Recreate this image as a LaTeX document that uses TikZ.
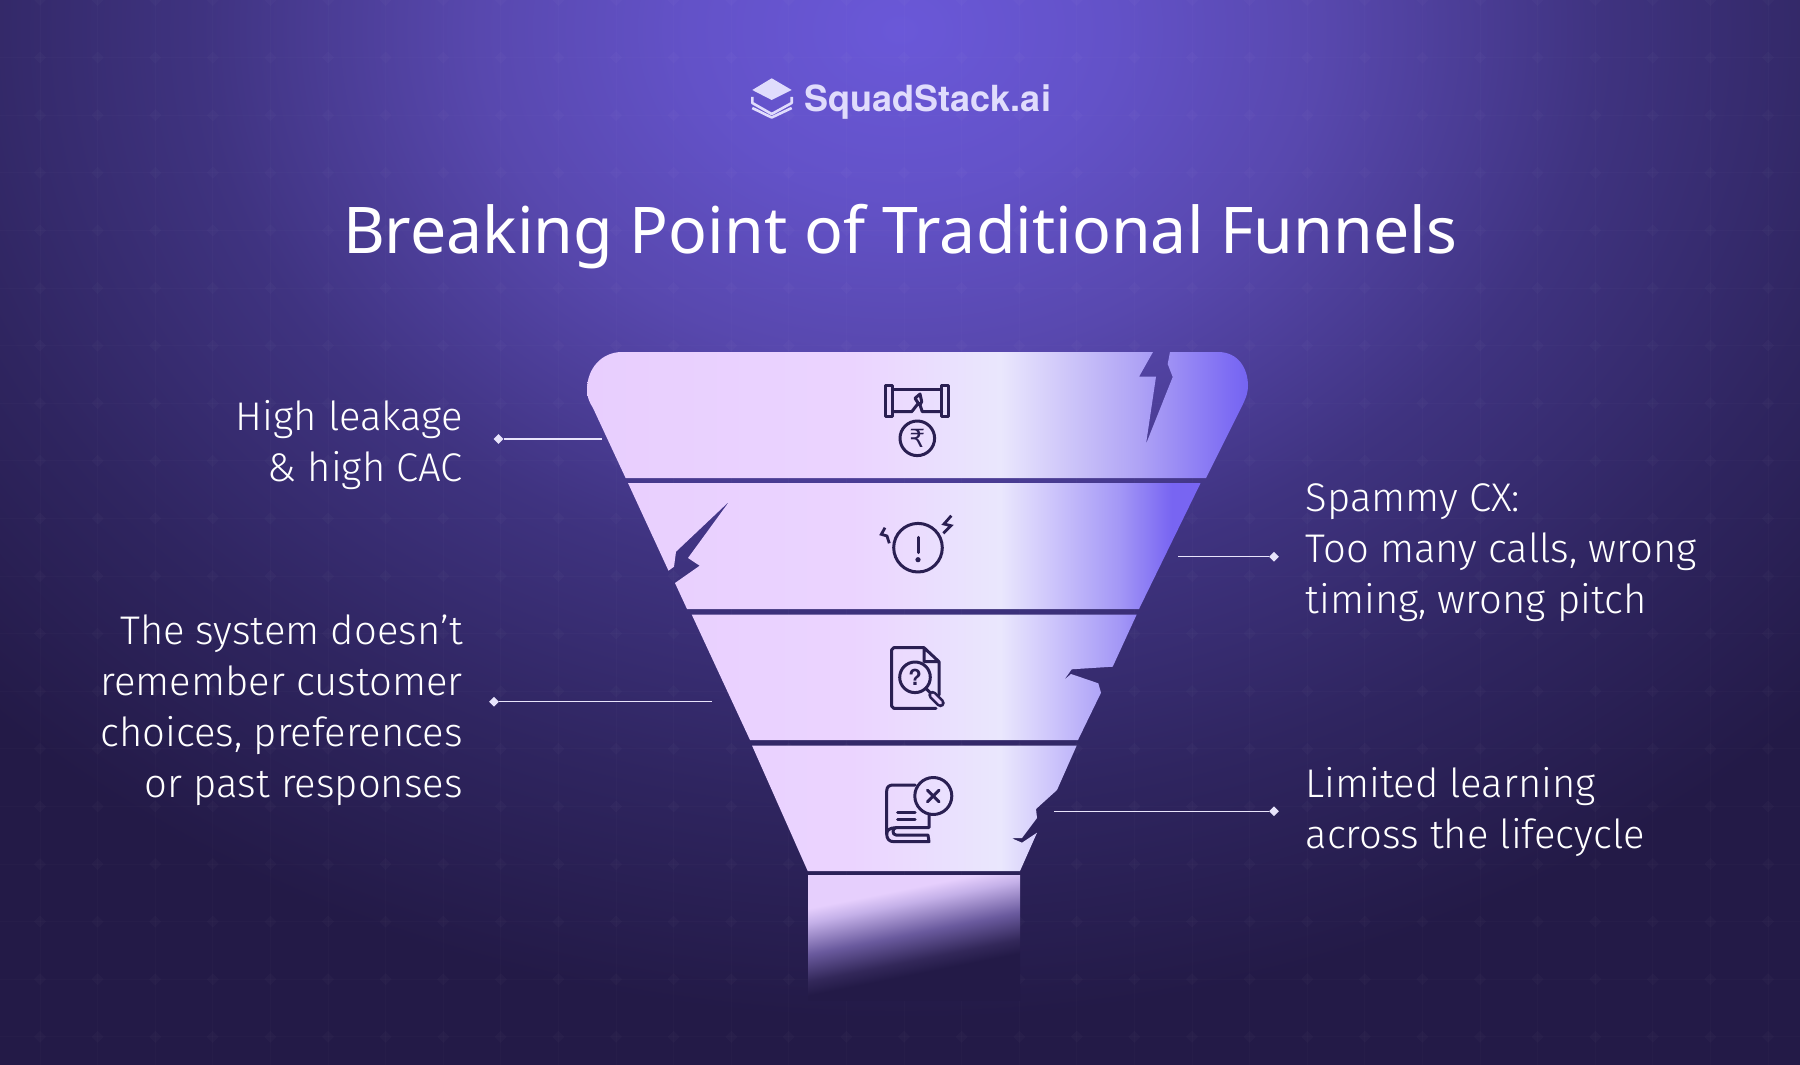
\documentclass[tikz,border=0pt]{standalone}
\usepackage{fontspec}
\usetikzlibrary{shapes.geometric}
\setmainfont{Noto Sans}
\newfontfamily\lightfont{Fira Sans Light}
\newfontfamily\logofont{TeX Gyre Heros}
\newfontfamily\symfont{DejaVu Sans}
\definecolor{ink}{HTML}{2A1F52}
\definecolor{linec}{HTML}{E8E4FB}
\definecolor{logoc}{HTML}{E0DCFC}
\definecolor{c0}{HTML}{6A58D8}
\definecolor{c1}{HTML}{6352C8}
\definecolor{c2}{HTML}{5848AE}
\definecolor{c3}{HTML}{3F3380}
\definecolor{c4}{HTML}{2F2560}
\definecolor{c5}{HTML}{231A47}
\definecolor{fa}{HTML}{E8CEFE}
\definecolor{fb}{HTML}{EBD4FF}
\definecolor{fc}{HTML}{EAE7FD}
\definecolor{fd}{HTML}{D5CEFA}
\definecolor{fe}{HTML}{AEA2F5}
\definecolor{ff}{HTML}{7D6CF3}
\definecolor{fg}{HTML}{7565F2}
\definecolor{gd}{HTML}{CEC6FB}
\definecolor{ge}{HTML}{A498F6}
\definecolor{gf}{HTML}{7865F2}
\definecolor{sa}{HTML}{E6CFFD}
\definecolor{sb}{HTML}{C4B0E8}
\definecolor{sc}{HTML}{6A5A9E}
\definecolor{sd}{HTML}{33285A}
\pgfdeclareradialshading{bgglow}{\pgfpoint{0bp}{0bp}}{
 color(0bp)=(c0); color(3.75bp)=(c1); color(7.5bp)=(c2); color(12.5bp)=(c3);
 color(17.5bp)=(c4); color(22.5bp)=(c5); color(50bp)=(c5)}
\pgfdeclarehorizontalshading{bandone}{100bp}{
 color(0bp)=(fa); color(25bp)=(fa); color(45bp)=(fb); color(55.9bp)=(fc);
 color(59.6bp)=(fd); color(66.2bp)=(fe); color(72.8bp)=(ff); color(74bp)=(fg); color(100bp)=(fg)}
\pgfdeclarehorizontalshading{bandrest}{100bp}{
 color(0bp)=(fa); color(25bp)=(fa); color(45bp)=(fb); color(55.9bp)=(fc);
 color(59.6bp)=(gd); color(64.6bp)=(ge); color(68.5bp)=(gf); color(100bp)=(gf)}
\pgfdeclareverticalshading{stemfade}{100bp}{
 color(0bp)=(c5); color(37bp)=(c5); color(42bp)=(sd); color(51.5bp)=(sc);
 color(62.5bp)=(sb); color(67.7bp)=(sa); color(100bp)=(sa)}
\tikzset{
  lab/.style={font=\lightfont\fontsize{40}{51}\selectfont,text=white,inner sep=0pt},
  conn/.style={draw=linec,line width=1.5pt},
  tipmark/.style={diamond,fill=linec,inner sep=0pt,minimum size=10pt},
  icon/.style={draw=ink,line width=3pt,line join=round,line cap=round},
  bolt/.style={draw=ink,line width=2.8pt,line join=miter},
  gridline/.style={draw=white,draw opacity=.014,line width=1pt},
  gridmark/.style={fill=white,fill opacity=.02}
}
\begin{document}
\begin{tikzpicture}[x=1pt,y=-1pt]
\useasboundingbox (0,0) rectangle (1800,1065);
% background
\begin{scope}
\clip (0,0) rectangle (1800,1065);
\shade[shading=bgglow] (-500,-1070) rectangle (2300,1130);
\foreach \i in {0,...,31}{
  \pgfmathsetmacro{\gx}{40+57.6*\i}
  \draw[gridline] (\gx,0) -- (\gx,1065);
}
\foreach \j in {0,...,18}{
  \pgfmathsetmacro{\gy}{0+57.6*\j}
  \draw[gridline] (0,\gy) -- (1800,\gy);
  \foreach \i in {0,...,31}{
    \pgfmathsetmacro{\gx}{40+57.6*\i}
    \fill[gridmark] (\gx-6,\gy) -- (\gx,\gy-6) -- (\gx+6,\gy) -- (\gx,\gy+6) -- cycle;
  }
}
\end{scope}
% band 1
\begin{scope}
\clip (622,352) -- (1153,352) -- (1139,376.7) -- (1156,376.7) -- (1146,444) -- (1172.7,377) -- (1167.7,364) -- (1170,352) -- (1218,352)
  .. controls (1238,352) and (1248,368) .. (1248,386) .. controls (1248,392) and (1246,398) .. (1243,404) -- (1206,478) -- (625.6,478) -- (593,408)
  .. controls (589,402) and (587,396) .. (587,390) .. controls (587,368) and (602,352) .. (622,352) -- cycle;
\shade[shading=bandone] (580,340) rectangle (1260,490);
\end{scope}
% band 2
\begin{scope}
\clip (628,483) -- (1200.6,483) -- (1139,609) -- (687,609) -- (675,583) -- (699.7,565.7) -- (688,558) -- (729.6,501) -- (676,551.7) -- (674,566.7) -- (668.5,570.7) -- cycle;
\shade[shading=bandrest] (580,470) rectangle (1260,620);
\end{scope}
% band 3
\begin{scope}
\clip (691.7,614.5) -- (1136.7,614.5) -- (1112.7,666.7) -- (1071.7,669.3) -- (1064,680) -- (1071,674) -- (1098.3,683.3) -- (1101,692.7) -- (1078,740) -- (750,740) -- cycle;
\shade[shading=bandrest] (580,600) rectangle (1260,750);
\end{scope}
% band 4
\begin{scope}
\clip (752,745.5) -- (1076.7,745.5) -- (1057,790) -- (1036,809) -- (1037,818) -- (1022,838) -- (1011.7,838.3) -- (1022,842.7) -- (1037,832.7) -- (1020,871) -- (807.7,871) -- cycle;
\shade[shading=bandrest] (580,730) rectangle (1260,880);
\end{scope}
% stem
\shade[shading=stemfade,shading angle=11.3] (808,875) rectangle (1020,1000);
% logo
\fill[logoc] (771.7,78.3) -- (791.7,90) -- (771.7,100) -- (752.3,90) -- cycle;
\draw[logoc,line width=2.6pt,line join=round] (752.3,97) -- (752.3,103) -- (771.7,114) -- (791.7,103) -- (791.7,97);
\draw[logoc,line width=2.6pt,line join=round] (752.3,108) -- (771.7,117.5) -- (791.7,108);
\node[anchor=base west,inner sep=0pt,text=logoc,font=\logofont\bfseries\fontsize{36}{44}\selectfont] (logo) at (804,111) {SquadStack.ai};
% title
\node[anchor=base,inner sep=0pt,text=white,font=\fontsize{64.4}{70}\selectfont] (title) at (900,253.7) {Breaking Point of Traditional Funnels};
% icon 1: pipe
\draw[icon] (885.7,385) rectangle (892.7,416.7);
\draw[icon] (941.7,385) rectangle (948.7,416.7);
\draw[icon] (892.7,389.3) -- (941.7,389.3);
\draw[icon] (892.7,411.7) -- (911.7,411.7) -- (918.3,403.3) -- (915,398.3) -- (920,394) -- (921.7,401.7) -- (920,405) -- (922.3,411.7) -- (941.7,411.7);
\draw[icon] (917.3,438.3) circle (17.3);
\node[inner sep=0pt,text=ink,font=\symfont\fontsize{25}{27}\selectfont] (rupee) at (917.3,438.3) {₹};
% icon 2: alert
\draw[icon] (918,547.7) circle (24.3);
\draw[icon] (918,537.3) -- (918,552.7);
\fill[ink] (918,559.7) circle (2.6);
\draw[bolt] (885,527.7) -- (881.3,534.3) -- (887,536) -- (889.3,543.3);
\draw[bolt] (951.3,515.7) -- (944,524) -- (951,525.7) -- (943.3,533.3);
% icon 3: document
\draw[icon] (924,647.7) -- (893.7,647.7) -- (891.7,649.7) -- (891.7,706.3) -- (893.7,708.3) -- (936,708.3);
\draw[icon] (939,695) -- (939,661.7) -- (924,647.7) -- (924,661.7) -- (939,661.7);
\draw[icon] (915,677.3) circle (15.3);
\draw[icon] (925.7,688.3) -- (931,693.5);
\draw[icon,line width=8.5pt] (932.5,695) -- (940.5,703);
\draw[line width=3.5pt,draw=fb,line cap=round] (932.5,695) -- (940.5,703);
\node[inner sep=0pt,text=ink,font=\logofont\bfseries\fontsize{22}{24}\selectfont] (quest) at (915,677.3) {?};
% icon 4: book
\draw[icon] (915,785) -- (893,785) .. controls (889,785) and (886.7,787) .. (886.7,791) -- (886.7,834) .. controls (886.7,838.7) and (889,841.7) .. (894,841.7) -- (929,841.7) -- (928,835) -- (896,835) .. controls (892,835) and (892,827.7) .. (896,827.7) -- (929,827.7) -- (929,815);
\draw[icon] (886.7,834) .. controls (886.7,830) and (890,827.7) .. (896,827.7);
\draw[icon] (897.7,812) -- (915,812);
\draw[icon] (897.7,819.3) -- (915,819.3);
\draw[icon] (933.3,796) circle (18.5);
\draw[icon] (927.5,790.2) -- (939.1,801.8);
\draw[icon] (939.1,790.2) -- (927.5,801.8);
% labels
\node[lab,anchor=base east,align=right] (t1) at (463,481) {High leakage\\\& high CAC};
\node[lab,anchor=base east,align=right] (t2) at (463,797) {The system doesn’t\\remember customer\\choices, preferences\\or past responses};
\node[lab,anchor=base west,align=left] (t3) at (1305.5,613) {Spammy CX:\\Too many calls, wrong\\timing, wrong pitch};
\node[lab,anchor=base west,align=left] (t4) at (1305.5,848) {Limited learning\\across the lifecycle};
% connectors
\node[tipmark] (m1) at (498.5,439) {};
\coordinate (e1) at (601.5,439);
\draw[conn] (m1) -- (e1);
\node[tipmark] (m2) at (494,701.7) {};
\coordinate (e2) at (711.5,701.7);
\draw[conn] (m2) -- (e2);
\node[tipmark] (m3) at (1274,556.7) {};
\coordinate (e3) at (1178,556.7);
\draw[conn] (e3) -- (m3);
\node[tipmark] (m4) at (1274,811.3) {};
\coordinate (e4) at (1054,811.3);
\draw[conn] (e4) -- (m4);
\end{tikzpicture}
\end{document}
